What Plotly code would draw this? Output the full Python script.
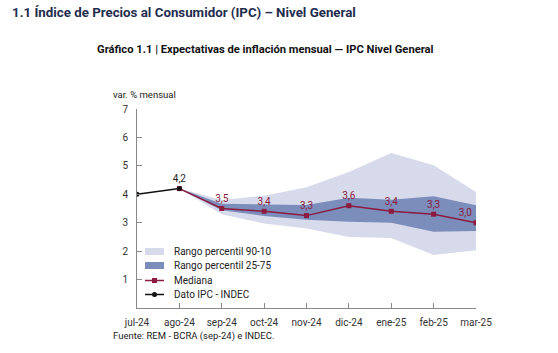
import plotly.graph_objects as go

months = ["jul-24", "ago-24", "sep-24", "oct-24", "nov-24", "dic-24", "ene-25", "feb-25", "mar-25"]
ipc_x = [0, 1]
ipc_vals = [4.0, 4.2]
ipc_labels = ["", "4,2"]

exp_x = [1, 2, 3, 4, 5, 6, 7, 8]
mediana = [4.2, 3.5, 3.4, 3.25, 3.6, 3.4, 3.3, 3.0]
mediana_labels = ["", "3,5", "3,4", "3,3", "3,6", "3,4", "3,3", "3,0"]
p90 = [4.2, 3.8, 3.95, 4.25, 4.78, 5.45, 5.02, 4.08]
p10 = [4.2, 3.3, 2.97, 2.8, 2.5, 2.46, 1.86, 2.03]
p75 = [4.2, 3.67, 3.64, 3.62, 3.88, 3.81, 3.93, 3.61]
p25 = [4.2, 3.44, 3.24, 3.1, 3.03, 3.0, 2.68, 2.71]

legend_names = ["Rango percentil 90-10", "Rango percentil 25-75", "Mediana", "Dato IPC - INDEC"]

LIGHT = "#d6daeb"
DARK = "#7b8dba"
RED = "#8c1b3f"
BLACK = "#111111"
FONT = "Roboto"

fig = go.Figure()
fig.add_trace(go.Scatter(x=exp_x, y=p10, mode="lines", line=dict(width=0), showlegend=False, hoverinfo="skip"))
fig.add_trace(go.Scatter(x=exp_x, y=p90, mode="lines", line=dict(width=0), fill="tonexty",
                         fillcolor=LIGHT, name=legend_names[0], showlegend=False))
fig.add_trace(go.Scatter(x=exp_x, y=p25, mode="lines", line=dict(width=0), showlegend=False, hoverinfo="skip"))
fig.add_trace(go.Scatter(x=exp_x, y=p75, mode="lines", line=dict(width=0), fill="tonexty",
                         fillcolor=DARK, name=legend_names[1], showlegend=False))
fig.add_trace(go.Scatter(x=exp_x, y=mediana, mode="lines+markers+text", name=legend_names[2], showlegend=False,
                         line=dict(color=RED, width=1.5), marker=dict(symbol="square", size=5, color=RED),
                         text=mediana_labels,
                         textposition=["top center"] * 7 + ["top left"],
                         textfont=dict(color=RED, size=10, family=FONT)))
fig.add_trace(go.Scatter(x=ipc_x, y=ipc_vals, mode="lines+markers+text", name=legend_names[3], showlegend=False,
                         line=dict(color=BLACK, width=1.5), marker=dict(symbol="circle", size=5, color=BLACK),
                         text=ipc_labels, textposition="top center",
                         textfont=dict(color="#222222", size=10, family=FONT)))

L, R, T, B = 137, 82, 109, 45
W, H = 558, 353
pw, ph = W - L - R, H - T - B
def px(xp): return (xp - L) / pw
def py(yp): return (H - B - yp) / ph

shapes = []
annotations = []
# manual legend
leg_y = [251.5, 265.5, 280.5, 294.5]
sw_x0, sw_x1, txt_x = 145, 164, 172
for i, name in enumerate(legend_names):
    y = leg_y[i]
    if i < 2:
        shapes.append(dict(type="rect", xref="paper", yref="paper",
                           x0=px(sw_x0), x1=px(sw_x1), y0=py(y + 3.5), y1=py(y - 3.5),
                           fillcolor=[LIGHT, DARK][i], line=dict(width=0), layer="above"))
    else:
        col = [RED, BLACK][i - 2]
        shapes.append(dict(type="line", xref="paper", yref="paper",
                           x0=px(sw_x0), x1=px(sw_x1), y0=py(y), y1=py(y),
                           line=dict(color=col, width=1.5), layer="above"))
        cx = (sw_x0 + sw_x1) / 2
        shapes.append(dict(type="rect" if i == 2 else "circle", xref="paper", yref="paper",
                           x0=px(cx - 2.5), x1=px(cx + 2.5), y0=py(y + 2.5), y1=py(y - 2.5),
                           fillcolor=col, line=dict(width=0), layer="above"))
    annotations.append(dict(text=name, x=px(txt_x), y=py(y), xref="paper", yref="paper",
                            xanchor="left", yanchor="middle", showarrow=False,
                            font=dict(size=10, color="#222222", family=FONT)))

annotations += [
    dict(text="<b>1.1 Índice de Precios al Consumidor (IPC) – Nivel General</b>", x=px(10), y=py(13),
         xref="paper", yref="paper", xanchor="left", yanchor="middle", showarrow=False,
         font=dict(size=13.3, color="#1f2d4f", family=FONT)),
    dict(text="<b>Gráfico 1.1 | Expectativas de inflación mensual — IPC Nivel General</b>",
         x=px(265), y=py(50), xref="paper", yref="paper", xanchor="center", yanchor="middle",
         showarrow=False, font=dict(size=11.2, color="#111111", family=FONT)),
    dict(text="var. % mensual", x=px(111), y=py(95), xref="paper", yref="paper", xanchor="left",
         yanchor="middle", showarrow=False, font=dict(size=9.5, color="#222222", family=FONT)),
    dict(text="Fuente: REM - BCRA (sep-24) e INDEC.", x=px(111), y=py(335.5), xref="paper", yref="paper",
         xanchor="left", yanchor="middle", showarrow=False, font=dict(size=9.5, color="#222222", family=FONT)),
]

fig.update_layout(
    width=W, height=H,
    margin=dict(l=L, r=R, t=T, b=B),
    paper_bgcolor="white", plot_bgcolor="white",
    font=dict(family=FONT, size=10, color="#333333"),
    showlegend=False,
    xaxis=dict(range=[0, 8], tickvals=list(range(len(months))), ticktext=months,
               showgrid=False, zeroline=False, showline=True, linecolor="#888888", linewidth=1,
               ticks="inside", ticklen=5, tickcolor="#888888", tickfont=dict(size=10, color="#333333"),
               ticklabelstandoff=5),
    yaxis=dict(range=[0, 7], tickvals=[1, 2, 3, 4, 5, 6, 7], showgrid=False, zeroline=False,
               showline=True, linecolor="#888888", linewidth=1, ticks="inside", ticklen=5,
               tickcolor="#888888", tickfont=dict(size=10, color="#333333"), ticklabelstandoff=6),
    shapes=shapes,
    annotations=annotations,
)

fig.write_html("out.html")
